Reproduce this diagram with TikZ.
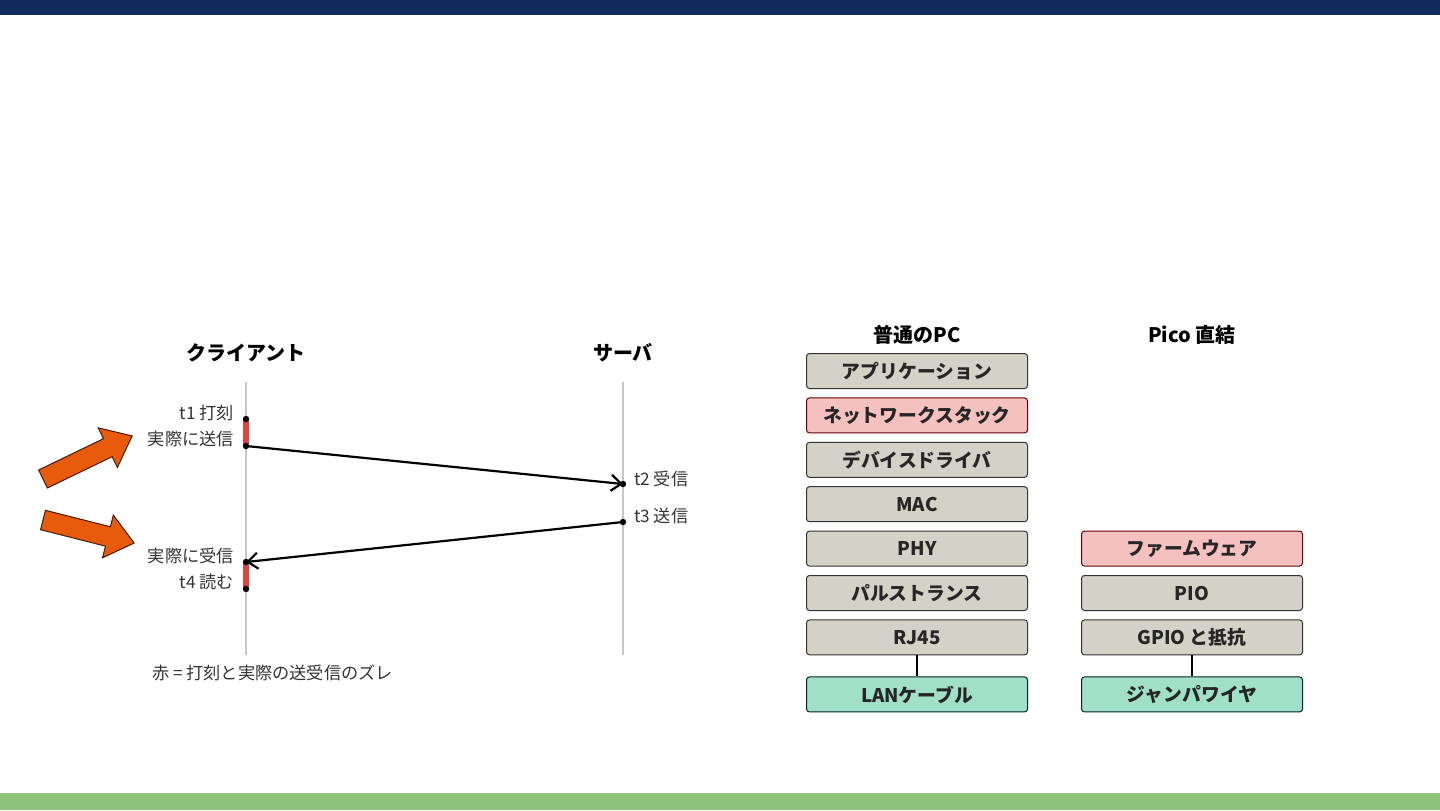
\documentclass[tikz,border=0pt]{standalone}
\usepackage{fontspec}
\setmainfont{Noto Sans CJK JP}
\usetikzlibrary{positioning,arrows.meta}
\definecolor{navybar}{HTML}{102B5C}
\definecolor{greenbar}{HTML}{8EC47A}
\definecolor{boxgrey}{HTML}{D4D1C8}
\definecolor{boxpink}{HTML}{F4C0C0}
\definecolor{boxteal}{HTML}{A0E0C8}
\definecolor{barred}{HTML}{D94444}
\definecolor{arroworange}{HTML}{E85A0C}
\definecolor{labelgrey}{HTML}{333333}

\begin{document}
\begin{tikzpicture}[x=0.5pt,y=-0.5pt,
  layerbox/.style={draw=black!80, rounded corners=1.5pt, line width=0.5pt, minimum width=110.5pt, minimum height=17.5pt, font=\bfseries\fontsize{9.4}{10}\selectfont, text=black!85},
  greybox/.style={layerbox, fill=boxgrey},
  pinkbox/.style={layerbox, fill=boxpink, draw=black!60!red},
  tealbox/.style={layerbox, fill=boxteal, draw=black!70!teal},
  headline/.style={font=\bfseries\fontsize{10}{12}\selectfont},
  timelabel/.style={font=\fontsize{8.6}{10}\selectfont, text=labelgrey},
  lifeline/.style={draw=black!22, line width=0.8pt},
  msg/.style={draw=black, line width=1.1pt, -{Straight Barb[length=5pt,width=8pt,line width=1.1pt]}},
  redbar/.style={draw=barred, line width=2.6pt},
  bigarrow/.style={fill=arroworange, draw=black!70!arroworange, line width=0.5pt, line join=miter},
  node distance=4.2pt]

\useasboundingbox (0,0) rectangle (1440,810);

%Bars
\fill[navybar] (0,0) rectangle (1440,15);
\fill[greenbar] (0,793) rectangle (1440,810);

%Lifelines
\node[headline] (client) at (246,353) {クライアント};
\node[headline] (server) at (623,353) {サーバ};
\coordinate (ctop) at (246,382);
\coordinate (cbot) at (246,655);
\coordinate (stop) at (623,382);
\coordinate (sbot) at (623,655);
\draw[lifeline] (ctop) -- (cbot);
\draw[lifeline] (stop) -- (sbot);

%Points
\coordinate (t1) at (246,419);
\coordinate (send) at (246,446);
\coordinate (t2) at (623,484);
\coordinate (t3) at (623,522);
\coordinate (recv) at (246,562);
\coordinate (t4) at (246,589);

\draw[redbar] (t1) -- (send);
\draw[redbar] (recv) -- (t4);
\draw[msg] (send) -- (t2);
\draw[msg] (t3) -- (recv);
\foreach \p in {t1,send,t2,t3,recv,t4}
  \fill (\p) circle (1.6pt);

\node[timelabel, anchor=east] (lt1) at (241,413) {t1 打刻};
\node[timelabel, anchor=east] (lsend) at (241,439) {実際に送信};
\node[timelabel, anchor=east] (lrecv) at (241,556) {実際に受信};
\node[timelabel, anchor=east] (lt4) at (241,582) {t4 読む};
\node[timelabel, anchor=west] (lt2) at (627,479) {t2 受信};
\node[timelabel, anchor=west] (lt3) at (627,516) {t3 送信};
\node[timelabel, anchor=west] (note) at (145,673) {赤 = 打刻と実際の送受信のズレ};

%Orange arrows
\draw[bigarrow, shift={(43,479)}, rotate=25.8]
  (0,-10) -- (72,-10) -- (72,-22) -- (99,0) -- (72,22) -- (72,10) -- (0,10) -- cycle;
\draw[bigarrow, shift={(43,520)}, rotate=-14.2]
  (0,-10) -- (67,-10) -- (67,-22) -- (94,0) -- (67,22) -- (67,10) -- (0,10) -- cycle;

%Stacks
\node[headline] (pctitle) at (917,335) {普通のPC};
\node[headline] (picotitle) at (1192,335) {Pico 直結};

\node[greybox] (app) at (917,371) {アプリケーション};
\node[pinkbox] (stack) [below=of app] {ネットワークスタック};
\node[greybox] (driver) [below=of stack] {デバイスドライバ};
\node[greybox] (mac) [below=of driver] {MAC};
\node[greybox] (phy) [below=of mac] {PHY};
\node[greybox] (pulse) [below=of phy] {パルストランス};
\node[greybox] (rj) [below=of pulse] {RJ45};
\node[tealbox] (lan) [below=10.5pt of rj] {LANケーブル};

\node[pinkbox] (fw) [right=26.5pt of phy] {ファームウェア};
\node[greybox] (pio) [below=of fw] {PIO};
\node[greybox] (gpio) [below=of pio] {GPIO と抵抗};
\node[tealbox] (wire) [below=10.5pt of gpio] {ジャンパワイヤ};

\draw[line width=1pt] (rj.south) -- (lan.north);
\draw[line width=1pt] (gpio.south) -- (wire.north);

\end{tikzpicture}
\end{document}
